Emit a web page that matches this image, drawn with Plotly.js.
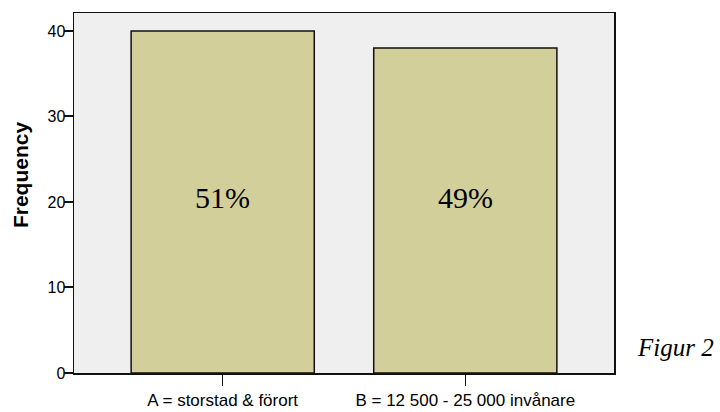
<!DOCTYPE html>
<html>
<head>
<meta charset="utf-8">
<script src="https://cdn.plot.ly/plotly-3.0.1.min.js"></script>
<style>html,body{margin:0;padding:0;background:#fff;}#chart{width:720px;height:412px;}</style>
</head>
<body>
<div id="chart"></div>
<script>
const categories = ["A = storstad & förort", "B = 12 500 - 25 000 invånare"];
const frequencies = [40, 38];
const percentLabels = ["51%", "49%"];
const yTicks = [0, 10, 20, 30, 40];
const yTitle = "Frequency";
const figureLabel = "Figur 2";

const trace = {
  type: "bar",
  x: categories,
  y: frequencies,
  marker: { color: "#d3cf9b", line: { color: "#111111", width: 1.5 } },
  hoverinfo: "skip"
};

const annotations = categories.map((c, i) => ({
  x: c, y: 20.5, xref: "x", yref: "y",
  xanchor: "center", yanchor: "middle",
  text: percentLabels[i], showarrow: false,
  font: { family: "Liberation Serif, Times New Roman, serif", size: 30, color: "#000" }
}));
annotations.push({
  x: 1.113, y: 0.072, xref: "paper", yref: "paper",
  xanchor: "center", yanchor: "middle",
  text: "<i>" + figureLabel + "</i>", showarrow: false,
  font: { family: "Liberation Serif, Times New Roman, serif", size: 25, color: "#000" }
});
annotations.push({
  x: -0.098, y: 0.55, xref: "paper", yref: "paper",
  xanchor: "center", yanchor: "middle", textangle: -90,
  text: "<b>" + yTitle + "</b>", showarrow: false,
  font: { family: "Liberation Sans, Arial, sans-serif", size: 21, color: "#000" }
});

const layout = {
  width: 720, height: 412,
  margin: { l: 74, r: 106, t: 13, b: 39, pad: 0 },
  paper_bgcolor: "#ffffff",
  plot_bgcolor: "#efefef",
  showlegend: false,
  bargap: 0.245,
  font: { family: "Liberation Sans, Arial, sans-serif", color: "#000" },
  xaxis: {
    type: "category",
    range: [-0.613, 1.613],
    showline: true, linecolor: "#111", linewidth: 1.5, mirror: true,
    ticks: "outside", ticklen: 11, tickwidth: 1.5, tickcolor: "#111",
    tickfont: { size: 17, color: "#000" },
    showgrid: false, zeroline: false, fixedrange: true
  },
  yaxis: {
    range: [0, 42.1],
    tickvals: yTicks,
    showline: true, linecolor: "#111", linewidth: 1.5, mirror: true,
    ticks: "outside", ticklen: 9, tickwidth: 2, tickcolor: "#111",
    tickfont: { size: 16, color: "#000" },
    ticklabelstandoff: -5,
    showgrid: false, zeroline: false, fixedrange: true
  },
  annotations: annotations
};

Plotly.newPlot("chart", [trace], layout, { staticPlot: true, displayModeBar: false });
</script>
</body>
</html>
